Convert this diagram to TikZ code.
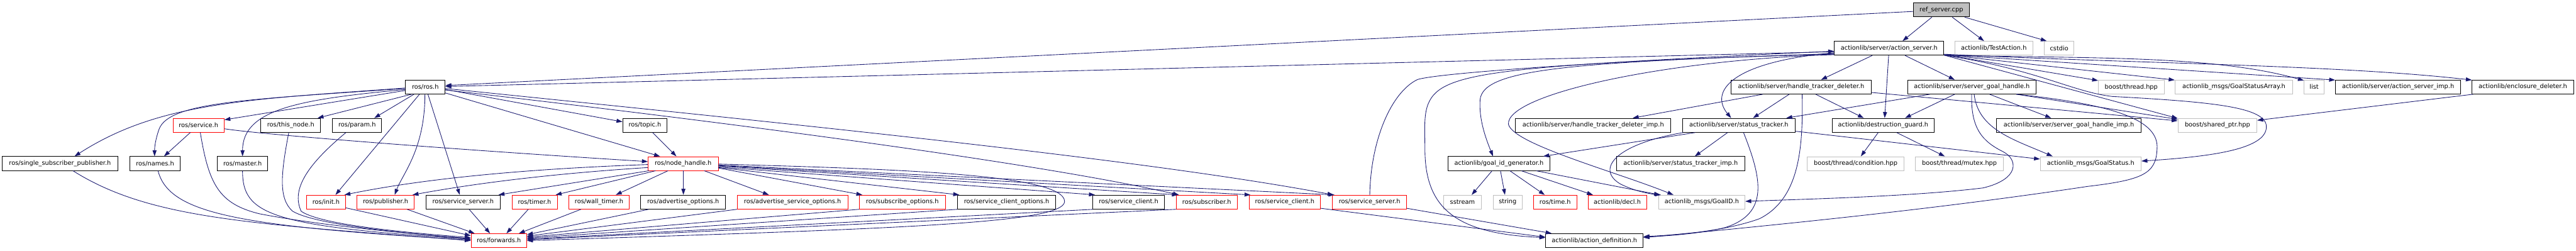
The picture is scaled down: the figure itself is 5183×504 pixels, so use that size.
\documentclass[tikz,border=0pt]{standalone}
\usepackage{fontspec}
\setmainfont{DejaVu Sans}
\usetikzlibrary{arrows.meta}
\definecolor{edgec}{HTML}{191970}
\definecolor{redc}{HTML}{FF0000}
\definecolor{grayc}{HTML}{BFBFBF}
\begin{document}
\begin{tikzpicture}[x=1pt,y=-1pt,
 box/.style={draw, rectangle, minimum height=28pt, inner sep=0pt, fill=white, font=\fontsize{12.4}{15}\selectfont, line width=1pt},
 bk/.style={box, draw=black, line width=1.2pt},
 rd/.style={box, draw=redc},
 gy/.style={box, draw=grayc},
 rt/.style={box, draw=black, line width=1.2pt, fill=grayc},
 e/.style={draw=edgec, line width=1.1pt, -{Triangle[length=12pt,width=8pt]}}
]
\useasboundingbox (0,0) rectangle (5183,504);
% row 0
\node[rt, minimum width=112pt] (ref) at (3906,20) {ref\_server.cpp};
% row 1
\node[bk, minimum width=220pt] (as) at (3801,97) {actionlib/server/action\_server.h};
\node[gy, minimum width=157pt] (testa) at (4011.5,97) {actionlib/TestAction.h};
\node[gy, minimum width=60pt] (cstdio) at (4143,97) {cstdio};
% row 2
\node[bk, minimum width=79.5pt] (rosh) at (855.75,175) {ros/ros.h};
\node[bk, minimum width=282pt] (htd) at (3624,175) {actionlib/server/handle\_tracker\_deleter.h};
\node[bk, minimum width=259pt] (sgh) at (3967.5,175) {actionlib/server/server\_goal\_handle.h};
\node[gy, minimum width=132pt] (thread) at (4288,175) {boost/thread.hpp};
\node[gy, minimum width=237pt] (gsa) at (4494.5,175) {actionlib\_msgs/GoalStatusArray.h};
\node[gy, minimum width=40pt] (list) at (4656,175) {list};
\node[bk, minimum width=252pt] (asimp) at (4825,175) {actionlib/server/action\_server\_imp.h};
\node[bk, minimum width=204pt] (encl) at (5076,175) {actionlib/enclosure\_deleter.h};
% row 3
\node[rd, minimum width=103pt] (service) at (399.5,252) {ros/service.h};
\node[bk, minimum width=120pt] (thisnode) at (585,252) {ros/this\_node.h};
\node[bk, minimum width=99pt] (param) at (718.5,252) {ros/param.h};
\node[bk, minimum width=89pt] (topic) at (1297.5,252) {ros/topic.h};
\node[bk, minimum width=313pt] (htdimp) at (3205.5,252) {actionlib/server/handle\_tracker\_deleter\_imp.h};
\node[bk, minimum width=227pt] (st) at (3498.5,252) {actionlib/server/status\_tracker.h};
\node[bk, minimum width=206pt] (dg) at (3789,252) {actionlib/destruction\_guard.h};
\node[bk, minimum width=291pt] (sghimp) at (4162.5,252) {actionlib/server/server\_goal\_handle\_imp.h};
\node[gy, minimum width=159pt] (sptr) at (4461.5,252) {boost/shared\_ptr.hpp};
% row 4
\node[bk, minimum width=233.5pt] (ssp) at (120.75,329) {ros/single\_subscriber\_publisher.h};
\node[bk, minimum width=102pt] (names) at (312,329) {ros/names.h};
\node[bk, minimum width=102pt] (master) at (488,329) {ros/master.h};
\node[rd, minimum width=141pt] (nh) at (1374.5,329) {ros/node\_handle.h};
\node[bk, minimum width=206pt] (gidg) at (3016,329) {actionlib/goal\_id\_generator.h};
\node[bk, minimum width=259pt] (stimp) at (3381.5,329) {actionlib/server/status\_tracker\_imp.h};
\node[gy, minimum width=195pt] (cond) at (3733.5,329) {boost/thread/condition.hpp};
\node[gy, minimum width=177pt] (mutex) at (3942.5,329) {boost/thread/mutex.hpp};
\node[gy, minimum width=203pt] (gs) at (4206.5,329) {actionlib\_msgs/GoalStatus.h};
% row 5
\node[rd, minimum width=78pt] (init) at (656,406.5) {ros/init.h};
\node[rd, minimum width=114.5pt] (pub) at (775.75,406.5) {ros/publisher.h};
\node[bk, minimum width=149.5pt] (ssb) at (931.75,406.5) {ros/service\_server.h};
\node[rd, minimum width=91pt] (timer) at (1075.5,406.5) {ros/timer.h};
\node[rd, minimum width=121.4pt] (wtimer) at (1205.3,406.5) {ros/wall\_timer.h};
\node[bk, minimum width=171pt] (advo) at (1374.5,406.5) {ros/advertise\_options.h};
\node[rd, minimum width=223pt] (advso) at (1594.5,406.5) {ros/advertise\_service\_options.h};
\node[rd, minimum width=173pt] (subo) at (1815.5,406.5) {ros/subscribe\_options.h};
\node[bk, minimum width=198.5pt] (sco) at (2025.25,406.5) {ros/service\_client\_options.h};
\node[bk, minimum width=143.5pt] (scb) at (2270.75,406.5) {ros/service\_client.h};
\node[rd, minimum width=122pt] (sub) at (2428,406.5) {ros/subscriber.h};
\node[rd, minimum width=144pt] (scr) at (2585,406.5) {ros/service\_client.h};
\node[rd, minimum width=149pt] (ssr) at (2755.5,406.5) {ros/service\_server.h};
\node[gy, minimum width=75pt] (sstream) at (2942.5,406.5) {sstream};
\node[gy, minimum width=59pt] (string) at (3033.5,406.5) {string};
\node[rd, minimum width=87pt] (time) at (3129,406.5) {ros/time.h};
\node[rd, minimum width=118pt] (decl) at (3254,406.5) {actionlib/decl.h};
\node[gy, minimum width=174pt] (gid) at (3424,406.5) {actionlib\_msgs/GoalID.h};
% row 6
\node[rd, minimum width=112pt] (fwd) at (1003.7,484) {ros/forwards.h};
\node[bk, minimum width=196pt] (adef) at (3208,484) {actionlib/action\_definition.h};

% ---- edges: actionlib side
\draw[e] ([xshift=-19]ref.south) -- ([xshift=27]as.north);
\draw[e] ([xshift=22]ref.south) -- ([xshift=-19.5]testa.north);
\draw[e] ([xshift=47]ref.south) -- ([xshift=-25]cstdio.north);
\draw[e] ([yshift=-3]ref.west) -- ([yshift=3]rosh.east);
\draw[e] ([yshift=-7]as.west) -- ([yshift=1]rosh.east);
\draw[e] ([xshift=-34]as.south) -- ([xshift=40]htd.north);
\draw[e] ([xshift=-1]as.south) -- ([xshift=3]dg.north);
\draw[e] ([xshift=32]as.south) -- ([xshift=-34.5]sgh.north);
\draw[e] ([yshift=-9]as.west) .. controls (3480,125) and (3440,185) .. ([xshift=-15.5]st.north);
\draw[e] ([yshift=-11]as.west) .. controls (3150,125) and (2985,140) .. (2978,200) .. controls (2975,240) and (2990,280) .. ([xshift=-12]gidg.north);
\draw[e] ([yshift=-12]as.west) .. controls (3100,125) and (2960,145) .. (2905,175) .. controls (2860,200) and (2867,240) .. (2867,300) .. controls (2867,420) and (2930,470) .. ([yshift=6]adef.west);
\draw[e] ([yshift=-13]as.west) .. controls (3350,120) and (3030,190) .. (3035,250) .. controls (3045,290) and (3250,345) .. ([xshift=-57]gid.north);
\draw[e] ([xshift=0.5]ssr.north) .. controls (2758,280) and (2800,185) .. (2852,160) .. controls (2900,145) and (3300,120) .. ([yshift=-6]as.west);
\draw[e] ([yshift=-13]as.east) -- ([yshift=13]thread.west);
\draw[e] ([yshift=-13]as.east) -- ([yshift=14]gsa.west);
\draw[e] ([yshift=-14]as.east) .. controls (4200,118) and (4450,110) .. ([yshift=13]list.west);
\draw[e] ([yshift=-13]as.east) -- ([yshift=14]asimp.west);
\draw[e] ([yshift=-12]as.east) .. controls (4300,128) and (4700,130) .. ([yshift=14]encl.west);
\draw[e] ([yshift=-14]as.east) -- ([yshift=14]sptr.west);
\draw[e] ([yshift=-14]as.east) .. controls (4100,140) and (4170,185) .. (4250,194) .. controls (4450,205) and (4560,215) .. (4560,255) .. controls (4560,300) and (4450,315) .. ([yshift=5]gs.east);
\draw[e] ([xshift=89.5]sgh.south) .. controls (4250,210) and (4345,240) .. (4340,300) .. controls (4338,350) and (4310,362) .. (4200,375) .. controls (3900,420) and (3600,450) .. ([yshift=6]adef.east);
\draw[e] ([yshift=-11]htd.east) -- ([yshift=9]sptr.west);
\draw[e] ([xshift=89.5]sgh.south) -- ([yshift=12]sptr.west);
\draw[e] ([xshift=-100]encl.south) -- ([yshift=10]sptr.east);
\draw[e] ([xshift=35.5]sgh.south) -- ([xshift=-35.5]sghimp.north);
\draw[e] ([xshift=-34.5]sgh.south) -- ([xshift=44]dg.north);
\draw[e] ([xshift=-84.5]sgh.south) -- ([xshift=95.5]st.north);
\draw[e] ([xshift=4.5]sgh.south) .. controls (3980,260) and (4050,280) .. ([xshift=-76.5]gs.north);
\draw[e] ([xshift=-0.5]sgh.south) .. controls (3965,260) and (3990,285) .. (4030,305) .. controls (4060,320) and (4065,360) .. (3990,378) .. controls (3850,395) and (3650,400) .. ([yshift=1.5]gid.east);
\draw[e] ([xshift=-77]htd.south) -- ([xshift=79.5]htdimp.north);
\draw[e] ([xshift=-24]htd.south) -- ([xshift=28.5]st.north);
\draw[e] ([xshift=29]htd.south) -- ([xshift=-39]dg.north);
\draw[e] ([xshift=2]htd.south) .. controls (3628,300) and (3620,400) .. (3540,440) .. controls (3470,465) and (3380,472) .. ([yshift=8]adef.east);
\draw[e] ([xshift=9.5]st.south) .. controls (3545,360) and (3560,430) .. (3470,458) .. controls (3420,470) and (3360,474) .. ([yshift=7]adef.east);
\draw[e] ([xshift=-22.5]st.south) -- ([xshift=28.5]stimp.north);
\draw[e] ([xshift=-87.5]st.south) -- ([xshift=89]gidg.north);
\draw[e] ([xshift=-111.5]st.south) .. controls (3250,290) and (3210,340) .. (3260,370) .. controls (3290,385) and (3320,390) .. ([xshift=-82]gid.north);
\draw[e] ([yshift=-12]st.east) -- ([yshift=9]gs.west);
\draw[e] ([xshift=75]gidg.south) -- ([xshift=-84]gid.north);
\draw[e] ([xshift=45]gidg.south) -- ([xshift=-49]decl.north);
\draw[e] ([xshift=22]gidg.south) -- ([xshift=-21]time.north);
\draw[e] ([xshift=3]gidg.south) -- ([xshift=-5.5]string.north);
\draw[e] ([xshift=-14]gidg.south) -- ([xshift=18.5]sstream.north);
\draw[e] ([xshift=-10]dg.south) -- ([xshift=10.5]cond.north);
\draw[e] ([xshift=27]dg.south) -- ([xshift=-29.5]mutex.north);
\draw[e] ([yshift=-12.5]ssr.east) -- ([xshift=-86]adef.north);
\draw[e] ([yshift=-12.5]scr.east) -- ([yshift=7]adef.west);

% ---- edges: ros side
\draw[e] ([yshift=-2]rosh.west) .. controls (500,200) and (320,205) .. ([xshift=29.25]ssp.north);
\draw[e] ([yshift=-3]rosh.west) .. controls (500,200) and (340,205) .. (320,260) .. controls (313,280) and (311,295) .. ([xshift=-1]names.north);
\draw[e] ([yshift=-5]rosh.west) .. controls (600,200) and (488,220) .. (master.north);
\draw[e] ([yshift=-7]rosh.west) -- ([yshift=11]service.east);
\draw[e] ([xshift=-27.75]rosh.south) -- ([xshift=54]thisnode.north);
\draw[e] ([xshift=-22.75]rosh.south) -- ([xshift=34.5]param.north);
\draw[e] ([xshift=-11.75]rosh.south) -- ([xshift=19]init.north);
\draw[e] ([xshift=-0.75]rosh.south) .. controls (855,300) and (810,350) .. ([xshift=18.25]pub.north);
\draw[e] ([xshift=5.25]rosh.south) -- ([xshift=-6.75]ssb.north);
\draw[e] ([yshift=-5]rosh.east) -- ([yshift=7]topic.west);
\draw[e] ([yshift=-12]rosh.east) -- ([xshift=-46.5]nh.north);
\draw[e] ([yshift=-6]rosh.east) .. controls (1500,250) and (2100,330) .. ([xshift=-56]sub.north);
\draw[e] ([yshift=-3]rosh.east) .. controls (1600,250) and (2300,320) .. ([xshift=-72.5]ssr.north);
\draw[e] ([xshift=-16.5]service.south) -- ([xshift=18]names.north);
\draw[e] ([yshift=-7]service.east) .. controls (520,270) and (900,300) .. ([yshift=4]nh.west);
\draw[e] ([xshift=15.5]topic.south) -- ([xshift=-13.5]nh.north);
\draw[e] ([yshift=-2]nh.west) .. controls (1050,340) and (850,360) .. ([xshift=37]init.north);
\draw[e] ([yshift=-8]nh.west) .. controls (1100,350) and (950,370) .. ([xshift=54.25]pub.north);
\draw[e] ([xshift=-69]nh.south) -- ([xshift=71.25]ssb.north);
\draw[e] ([xshift=-55.5]nh.south) -- ([xshift=42.5]timer.north);
\draw[e] ([xshift=-30.5]nh.south) -- ([xshift=33.7]wtimer.north);
\draw[e] ([xshift=0.5]nh.south) -- ([xshift=0.5]advo.north);
\draw[e] ([xshift=42.5]nh.south) -- ([xshift=-47.5]advso.north);
\draw[e] ([yshift=-9]nh.east) -- ([xshift=-80.5]subo.north);
\draw[e] ([yshift=-8]nh.east) -- ([xshift=-95.25]sco.north);
\draw[e] ([yshift=-7]nh.east) -- ([xshift=-67.75]scb.north);
\draw[e] ([yshift=-5]nh.east) -- ([xshift=-58]sub.north);
\draw[e] ([yshift=-4]nh.east) -- ([xshift=-69]scr.north);
\draw[e] ([yshift=-3]nh.east) -- ([xshift=-70.5]ssr.north);
\draw[e] ([yshift=-1]nh.east) .. controls (1800,340) and (2140,350) .. (2142,405) .. controls (2142,450) and (1800,460) .. (fwd.east);
% into forwards
\draw[e] ([xshift=26.25]ssp.south) .. controls (300,440) and (500,450) .. (fwd.west);
\draw[e] ([xshift=6]names.south) .. controls (340,430) and (480,455) .. ([yshift=1]fwd.west);
\draw[e] ([xshift=3.5]service.south) .. controls (420,370) and (440,410) .. (522,430) .. controls (650,455) and (850,472) .. ([yshift=3]fwd.west);
\draw[e] (master.south) .. controls (488,430) and (540,455) .. ([yshift=3]fwd.west);
\draw[e] ([xshift=-4]thisnode.south) .. controls (565,350) and (560,400) .. (589,425) .. controls (640,455) and (850,472) .. ([yshift=4]fwd.west);
\draw[e] ([xshift=-22.5]param.south) .. controls (620,330) and (585,380) .. (606,425) .. controls (650,455) and (850,470) .. ([yshift=6]fwd.west);
\draw[e] ([yshift=-11.5]init.east) -- ([yshift=10]fwd.west);
\draw[e] ([xshift=43.25]pub.south) -- ([xshift=-48.7]fwd.north);
\draw[e] ([xshift=12.25]ssb.south) -- ([xshift=-17.7]fwd.north);
\draw[e] ([xshift=-12.5]timer.south) -- ([xshift=15.3]fwd.north);
\draw[e] ([xshift=-36.3]wtimer.south) -- ([xshift=40.3]fwd.north);
\draw[e] ([xshift=-69.5]advo.south) -- ([yshift=12]fwd.east);
\draw[e] ([xshift=-111.5]advso.south) -- ([yshift=9]fwd.east);
\draw[e] ([xshift=-86.5]subo.south) -- ([yshift=7]fwd.east);
\draw[e] ([xshift=-99.25]sco.south) -- ([yshift=5]fwd.east);
\draw[e] ([xshift=-71.75]scb.south) -- ([yshift=3]fwd.east);
\draw[e] ([xshift=-61]sub.south) -- ([yshift=2]fwd.east);
\end{tikzpicture}
\end{document}
